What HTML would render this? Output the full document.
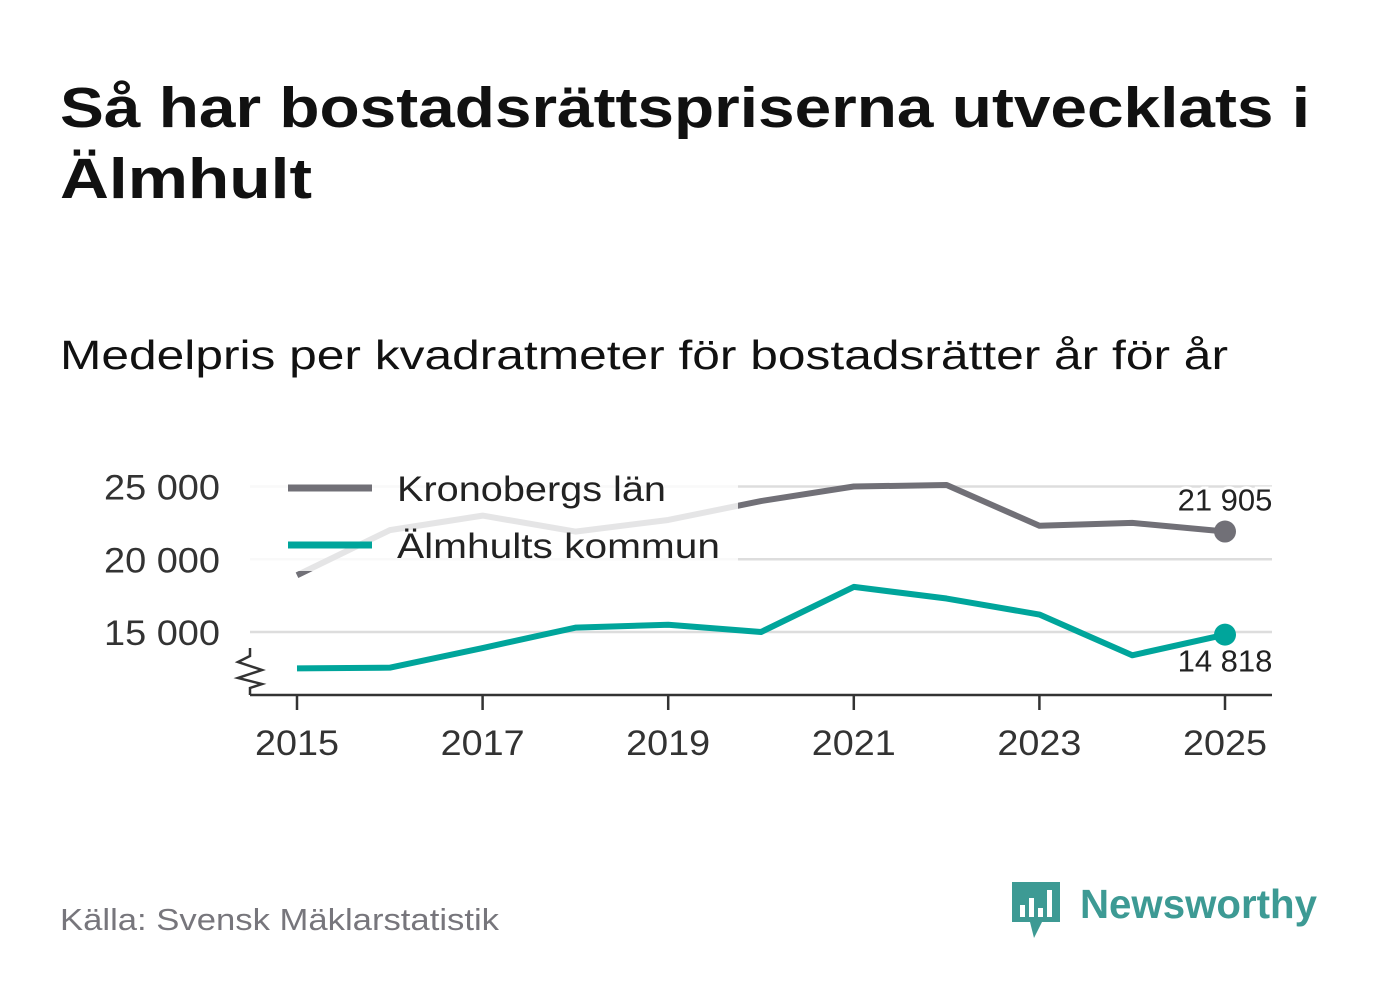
<!DOCTYPE html>
<html><head><meta charset="utf-8"><style>
body{margin:0;background:#fff;font-family:"Liberation Sans","DejaVu Sans",sans-serif;}
#wrap{position:relative;width:1382px;height:999px;overflow:hidden;}
</style></head><body>
<div id="wrap">
<svg id="svg" width="1382" height="999">
<text x="60" y="127" font-size="57" font-weight="bold" fill="#111" textLength="1250" lengthAdjust="spacingAndGlyphs">Så har bostadsrättspriserna utvecklats i</text>
<text x="60" y="198" font-size="57" font-weight="bold" fill="#111" textLength="252" lengthAdjust="spacingAndGlyphs">Älmhult</text>
<text x="60" y="369" font-size="41" fill="#111" textLength="1168" lengthAdjust="spacingAndGlyphs">Medelpris per kvadratmeter för bostadsrätter år för år</text>
<g id="grid"></g>
<g id="lines"></g>
<rect x="250" y="463" width="488" height="108" fill="#fff" opacity="0.82"/>
<g>
<line x1="288" y1="488" x2="372" y2="488" stroke="#717077" stroke-width="7"/>
<text x="397" y="501" font-size="35" fill="#222" textLength="269" lengthAdjust="spacingAndGlyphs">Kronobergs län</text>
<line x1="288" y1="545" x2="372" y2="545" stroke="#00a59b" stroke-width="7"/>
<text x="397" y="558" font-size="35" fill="#222" textLength="323" lengthAdjust="spacingAndGlyphs">Älmhults kommun</text>
</g>
<g id="axis"></g>
<text x="60" y="930" font-size="31" fill="#77767c" textLength="439" lengthAdjust="spacingAndGlyphs">Källa: Svensk Mäklarstatistik</text>
<g>
<path d="M1012 882 h48 v40 h-18 l-8 16 l-4 -16 h-18 z" fill="#3d9a94"/>
<rect x="1020" y="905" width="5" height="12" fill="#fff"/><rect x="1029" y="898" width="5" height="19" fill="#fff"/><rect x="1038" y="908" width="5" height="9" fill="#fff"/><rect x="1047" y="890" width="5" height="27" fill="#fff"/>
<text x="1080" y="918" font-size="41" font-weight="bold" fill="#3d9a94" textLength="237" lengthAdjust="spacingAndGlyphs">Newsworthy</text>
</g>
</svg>
<script>
const years=[2015,2016,2017,2018,2019,2020,2021,2022,2023,2024,2025];
const kronoberg=[18900,22000,23000,21900,22700,24000,25000,25100,22300,22500,21905];
const almhult=[12500,12550,13900,15300,15500,15000,18100,17300,16200,13400,14818];
const yTicks=[15000,20000,25000];
const yTickLabels=["15 000","20 000","25 000"];
const xTicks=[2015,2017,2019,2021,2023,2025];
const NS="http://www.w3.org/2000/svg";
const X=y=>297+(y-2015)*92.8;
const Y=v=>632-(v-15000)*0.01455;
function mk(t,a,p){const e=document.createElementNS(NS,t);for(const k in a)e.setAttribute(k,a[k]);p.appendChild(e);return e;}
const grid=document.getElementById('grid'),lines=document.getElementById('lines'),axis=document.getElementById('axis');
yTicks.forEach((v,i)=>{
 const l=mk('line',{x1:250,x2:1272,y1:Y(v),y2:Y(v),stroke:'#ddd','stroke-width':2.5},grid);
 
 
 const t=mk('text',{x:220,y:Y(v)+13,'font-size':35,fill:'#333','text-anchor':'end',textLength:116,lengthAdjust:'spacingAndGlyphs'},grid);t.textContent=yTickLabels[i];
 
 
});
function path(arr){return arr.map((v,i)=>(i?'L':'M')+X(years[i])+' '+Y(v)).join(' ');}
const pk=mk('path',{d:path(kronoberg),fill:'none',stroke:'#717077','stroke-width':6,'stroke-linejoin':'round'},lines);


const pa=mk('path',{d:path(almhult),fill:'none',stroke:'#00a59b','stroke-width':6,'stroke-linejoin':'round'},lines);


const n=years.length-1;
const ck=mk('circle',{cx:X(years[n]),cy:Y(kronoberg[n]),r:11,fill:'#717077'},lines);


const ca=mk('circle',{cx:X(years[n]),cy:Y(almhult[n]),r:11,fill:'#00a59b'},lines);


const fmt=v=>String(v).replace(/\B(?=(\d{3})+(?!\d))/g,' ');
const lk=mk('text',{x:X(years[n]),y:Y(kronoberg[n])-21,'font-size':31,fill:'#222','text-anchor':'middle',stroke:'#fff','stroke-width':6,'paint-order':'stroke'},lines);lk.textContent=fmt(kronoberg[n]);


const la=mk('text',{x:X(years[n]),y:Y(almhult[n])+37,'font-size':31,fill:'#222','text-anchor':'middle',stroke:'#fff','stroke-width':6,'paint-order':'stroke'},lines);la.textContent=fmt(almhult[n]);


const ax=mk('line',{x1:250,x2:1272,y1:695,y2:695,stroke:'#333','stroke-width':2.5},axis);


const br=mk('path',{d:'M250 648 L250 656 L238 662 L262 670 L238 678 L262 684 L250 688 L250 695',fill:'none',stroke:'#333','stroke-width':2.5},axis);


xTicks.forEach(y=>{
 const l=mk('line',{x1:X(y),x2:X(y),y1:695,y2:710,stroke:'#333','stroke-width':2.5},axis);
 
 
 const t=mk('text',{x:X(y),y:755,'font-size':35,fill:'#333','text-anchor':'middle',textLength:84,lengthAdjust:'spacingAndGlyphs'},axis);t.textContent=y;
 
 
});
</script>
</div>
</body></html>
